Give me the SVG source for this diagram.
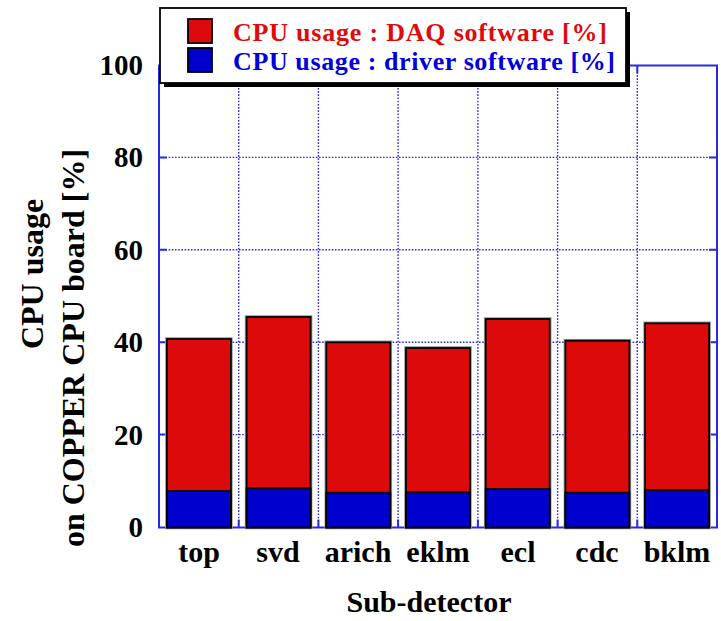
<svg xmlns="http://www.w3.org/2000/svg" width="721" height="621" viewBox="0 0 721 621">
  <style>
    .lbl { font-family: "Liberation Serif", "DejaVu Serif", serif; font-weight: bold; fill: #000; }
    .tick { font-size: 29px; text-anchor: end; }
    .cat { font-size: 30px; text-anchor: middle; }
    .grid { stroke: #2a2ae6; stroke-width: 1.4; stroke-dasharray: 1.6 1.6; fill: none; }
    .axis { stroke: #2a2ae6; stroke-width: 2; fill: none; }
    .tk { stroke: #2a2ae6; stroke-width: 2; }
    .halo { fill: none; stroke: #9a9a9a; stroke-width: 3.6; }
    .red { fill: #dc0a0a; stroke: #000; stroke-width: 1.8; }
    .blue { fill: #0000cd; stroke: #000; stroke-width: 1.8; }
    .key { font-family: "Liberation Serif", "DejaVu Serif", serif; font-weight: bold; font-size: 26px; }
  </style>
  <rect width="721" height="621" fill="#fff"/>

  <!-- grid -->
  <g id="grid">
    <path class="grid" d="M159 434.6H717M159 342.2H717M159 249.8H717M159 157.4H717"/>
    <path class="grid" d="M238.7 65.5V527.5M318.4 65.5V527.5M398.1 65.5V527.5M477.9 65.5V527.5M557.6 65.5V527.5M637.3 65.5V527.5"/>
  </g>

  <!-- frame and ticks -->
  <g id="axes">
    <rect class="axis" x="159" y="65.5" width="558" height="462"/>
    <path class="tk" d="M159 434.6h8M159 342.2h8M159 249.8h8M159 157.4h8M717 434.6h-8M717 342.2h-8M717 249.8h-8M717 157.4h-8"/>
    <path class="tk" d="M238.7 527.5v-8M318.4 527.5v-8M398.1 527.5v-8M477.9 527.5v-8M557.6 527.5v-8M637.3 527.5v-8M238.7 65.5v8M318.4 65.5v8M398.1 65.5v8M477.9 65.5v8M557.6 65.5v8M637.3 65.5v8"/>
  </g>

  <!-- stacked bars: DAQ software on top of driver software -->
  <g id="bar-top">
    <rect class="halo" x="166.9" y="339" width="64" height="188.5"/>
    <rect class="red" x="166.9" y="339" width="64" height="188.5"/>
    <rect class="blue" x="166.9" y="491" width="64" height="36.5"/>
  </g>
  <g id="bar-svd">
    <rect class="halo" x="246.6" y="317" width="64" height="210.5"/>
    <rect class="red" x="246.6" y="317" width="64" height="210.5"/>
    <rect class="blue" x="246.6" y="488.3" width="64" height="39.2"/>
  </g>
  <g id="bar-arich">
    <rect class="halo" x="326.3" y="342.3" width="64" height="185.2"/>
    <rect class="red" x="326.3" y="342.3" width="64" height="185.2"/>
    <rect class="blue" x="326.3" y="492.7" width="64" height="34.8"/>
  </g>
  <g id="bar-eklm">
    <rect class="halo" x="406" y="348" width="64" height="179.5"/>
    <rect class="red" x="406" y="348" width="64" height="179.5"/>
    <rect class="blue" x="406" y="492.3" width="64" height="35.2"/>
  </g>
  <g id="bar-ecl">
    <rect class="halo" x="485.7" y="319" width="64" height="208.5"/>
    <rect class="red" x="485.7" y="319" width="64" height="208.5"/>
    <rect class="blue" x="485.7" y="489" width="64" height="38.5"/>
  </g>
  <g id="bar-cdc">
    <rect class="halo" x="565.4" y="340.7" width="64" height="186.8"/>
    <rect class="red" x="565.4" y="340.7" width="64" height="186.8"/>
    <rect class="blue" x="565.4" y="492.7" width="64" height="34.8"/>
  </g>
  <g id="bar-bklm">
    <rect class="halo" x="645.1" y="323.3" width="64" height="204.2"/>
    <rect class="red" x="645.1" y="323.3" width="64" height="204.2"/>
    <rect class="blue" x="645.1" y="490" width="64" height="37.5"/>
  </g>

  <!-- y tick labels -->
  <g id="y-ticks" class="lbl tick">
    <text x="143" y="537">0</text>
    <text x="143" y="444.5">20</text>
    <text x="143" y="352">40</text>
    <text x="143" y="259.5">60</text>
    <text x="143" y="167">80</text>
    <text x="143" y="75">100</text>
  </g>

  <!-- category labels -->
  <g id="x-ticks" class="lbl cat">
    <text x="199" y="562">top</text>
    <text x="278" y="562">svd</text>
    <text x="358" y="562">arich</text>
    <text x="438" y="562">eklm</text>
    <text x="518" y="562">ecl</text>
    <text x="597" y="562">cdc</text>
    <text x="677" y="562">bklm</text>
  </g>

  <!-- axis titles -->
  <g id="x-title">
    <text class="lbl" x="429" y="612" font-size="30" text-anchor="middle">Sub-detector</text>
  </g>
  <g id="y-title" class="lbl" font-size="32" text-anchor="middle">
    <text transform="translate(43,274) rotate(-90)">CPU usage</text>
    <text transform="translate(84,348) rotate(-90)">on COPPER CPU board [%]</text>
  </g>

  <!-- legend -->
  <g id="legend">
    <rect x="164" y="12" width="466" height="75" fill="#000"/>
    <rect x="160" y="8" width="466" height="75" fill="#fff" stroke="#000" stroke-width="1.8"/>
    <rect x="188" y="19" width="24" height="24" fill="#dc0a0a" stroke="#000" stroke-width="1.8"/>
    <rect x="188" y="48" width="24" height="24" fill="#0000cd" stroke="#000" stroke-width="1.8"/>
    <text class="key" x="233" y="41" fill="#e00a0a" textLength="374">CPU usage : DAQ software [%]</text>
    <text class="key" x="233" y="70" fill="#0000dd" textLength="382">CPU usage : driver software [%]</text>
  </g>
</svg>
